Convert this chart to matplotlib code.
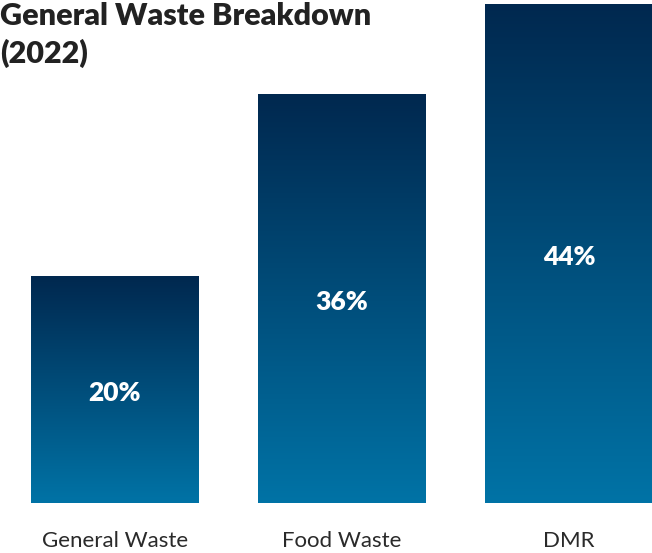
import numpy as np
import matplotlib
matplotlib.use("Agg")
import matplotlib.pyplot as plt
from matplotlib.colors import LinearSegmentedColormap

categories = ["General Waste", "Food Waste", "DMR"]
shares = [20, 36, 44]
labels = ["20%", "36%", "44%"]

plt.rcParams['font.family'] = ['Lato', 'DejaVu Sans']

fig = plt.figure(figsize=(6.52, 5.53), dpi=100)
ax = fig.add_axes([0, 1 - 503 / 553, 1, 503 / 553])

# dark navy at the top of each bar, lighter blue at the bottom
cmap = LinearSegmentedColormap.from_list("bar", ["#0073a6", "#00284f"])
grad = np.linspace(0, 1, 256).reshape(-1, 1)

x = np.arange(len(categories))
width = 0.74
bars = ax.bar(x, shares, width=width, color="none", edgecolor="none")
for bar, xi, v, lab in zip(bars, x, shares, labels):
    im = ax.imshow(grad, extent=(xi - width / 2, xi + width / 2, 0, v),
                   origin="lower", cmap=cmap, aspect="auto", zorder=1)
    im.set_clip_path(bar)
    ax.text(xi, v / 2 - 0.3, lab, ha="center", va="center", color="white",
            fontsize=19, fontweight="heavy", zorder=3)

ax.set_xlim(-0.5066, 2.366)
ax.set_ylim(0, 44.32)
ax.set_xticks(x)
ax.set_xticklabels(categories, fontsize=16, color="#2a2a2a")
ax.tick_params(axis="x", length=0, pad=20)
ax.set_yticks([])
for s in ax.spines.values():
    s.set_visible(False)

fig.text(0.0, 1 - 2 / 553, "General Waste Breakdown\n(2022)", ha="left", va="top",
         fontsize=22, fontweight="heavy", color="#222222", linespacing=1.35)

fig.savefig("out.png", dpi=100)
